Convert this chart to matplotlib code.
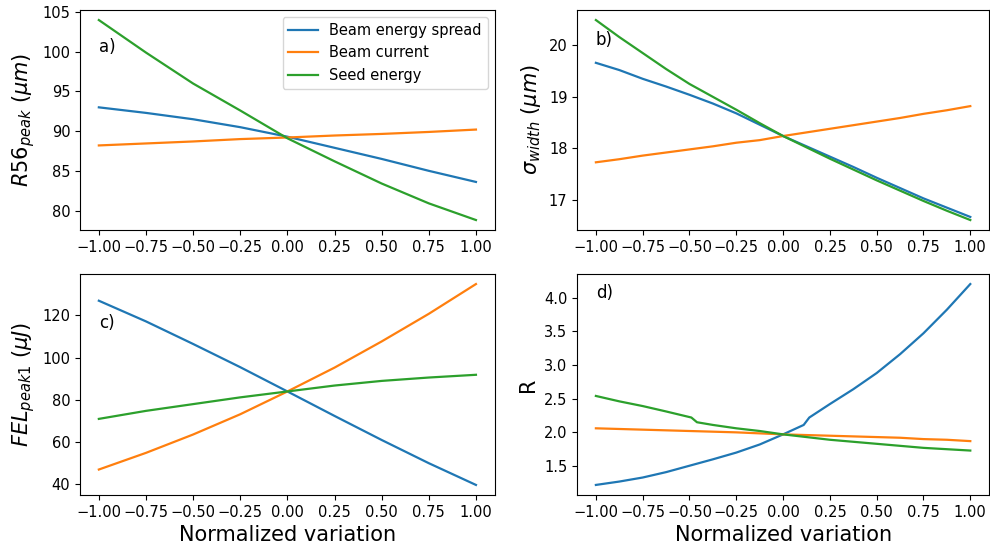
import matplotlib
matplotlib.use("Agg")
import matplotlib.pyplot as plt

# normalized variation grids
x = [-1.0, -0.875, -0.75, -0.625, -0.5, -0.375, -0.25, -0.125, 0.0,
     0.125, 0.25, 0.375, 0.5, 0.625, 0.75, 0.875, 1.0]
x9 = [-1.0, -0.75, -0.5, -0.25, 0.0, 0.25, 0.5, 0.75, 1.0]

labels = ["Beam energy spread", "Beam current", "Seed energy"]

# a) R56 peak (um)
r56_spread = [93.0, 92.3, 91.5, 90.5, 89.3, 87.9, 86.5, 85.0, 83.6]
r56_current = [88.2, 88.45, 88.7, 89.0, 89.2, 89.45, 89.65, 89.9, 90.2]
r56_seed = [104.0, 99.9, 96.0, 92.6, 89.1, 86.2, 83.4, 80.9, 78.8]

# b) sigma width (um)
sig_spread = [19.66, 19.52, 19.35, 19.20, 19.04, 18.87, 18.68, 18.46, 18.24,
              18.04, 17.84, 17.64, 17.43, 17.23, 17.03, 16.85, 16.67]
sig_current = [17.73, 17.79, 17.86, 17.92, 17.98, 18.04, 18.11, 18.16, 18.24,
               18.31, 18.38, 18.45, 18.52, 18.59, 18.67, 18.74, 18.82]
sig_seed = [20.49, 20.16, 19.85, 19.54, 19.25, 19.00, 18.75, 18.49, 18.24,
            18.02, 17.80, 17.59, 17.38, 17.18, 16.98, 16.79, 16.61]

# c) FEL peak1 (uJ)
fel_spread = [127.0, 117.2, 106.5, 95.5, 84.0, 72.4, 61.0, 50.0, 39.7]
fel_current = [47.0, 54.9, 63.6, 73.2, 84.0, 95.3, 107.7, 120.8, 134.9]
fel_seed = [71.0, 74.8, 78.0, 81.2, 84.0, 86.8, 89.0, 90.6, 91.9]

# d) R (own x grids where the curves have kinks)
x_r_spread = [-1.0, -0.875, -0.75, -0.625, -0.5, -0.375, -0.25, -0.125, 0.0,
              0.11, 0.14, 0.25, 0.375, 0.5, 0.625, 0.75, 0.875, 1.0]
r_spread = [1.22, 1.27, 1.33, 1.41, 1.505, 1.60, 1.70, 1.82, 1.97,
            2.11, 2.22, 2.42, 2.64, 2.88, 3.16, 3.47, 3.82, 4.20]
r_current = [2.06, 2.05, 2.04, 2.03, 2.02, 2.01, 2.00, 1.985, 1.97,
             1.96, 1.95, 1.94, 1.93, 1.92, 1.90, 1.89, 1.87]
x_r_seed = [-1.0, -0.875, -0.75, -0.625, -0.49, -0.46, -0.375, -0.25, -0.125,
            0.0, 0.125, 0.25, 0.375, 0.5, 0.625, 0.75, 0.875, 1.0]
r_seed = [2.54, 2.46, 2.39, 2.31, 2.22, 2.15, 2.11, 2.06, 2.02,
          1.97, 1.93, 1.89, 1.86, 1.83, 1.80, 1.77, 1.75, 1.73]

fig = plt.figure(figsize=(9.9, 5.49), dpi=100)
ax_a = fig.add_axes([0.0808, 0.581, 0.419, 0.4007])
ax_b = fig.add_axes([0.583, 0.581, 0.416, 0.4007])
ax_c = fig.add_axes([0.0808, 0.0984, 0.419, 0.4025])
ax_d = fig.add_axes([0.583, 0.0984, 0.416, 0.4025])

lw = 1.6
ax_a.plot(x9, r56_spread, lw=lw, label=labels[0])
ax_a.plot(x9, r56_current, lw=lw, label=labels[1])
ax_a.plot(x9, r56_seed, lw=lw, label=labels[2])

ax_b.plot(x, sig_spread, lw=lw)
ax_b.plot(x, sig_current, lw=lw)
ax_b.plot(x, sig_seed, lw=lw)

ax_c.plot(x9, fel_spread, lw=lw)
ax_c.plot(x9, fel_current, lw=lw)
ax_c.plot(x9, fel_seed, lw=lw)

ax_d.plot(x_r_spread, r_spread, lw=lw)
ax_d.plot(x, r_current, lw=lw)
ax_d.plot(x_r_seed, r_seed, lw=lw)

ax_a.legend(loc="upper right", fontsize=10.5)

ax_a.set_ylabel(r"$R56_{peak}$ $(\mu m)$", fontsize=15)
ax_b.set_ylabel(r"$\sigma_{width}$ $(\mu m)$", fontsize=15)
ax_c.set_ylabel(r"$FEL_{peak1}$ $(\mu J)$", fontsize=15)
ax_d.set_ylabel("R", fontsize=15)
ax_c.set_xlabel("Normalized variation", fontsize=15)
ax_d.set_xlabel("Normalized variation", fontsize=15)

ax_a.text(-1, 100, "a)", fontsize=12)
ax_b.text(-1, 20, "b)", fontsize=12)
ax_c.text(-1, 114, "c)", fontsize=12)
ax_d.text(-1, 4.0, "d)", fontsize=12)

ticks = [-1.0, -0.75, -0.5, -0.25, 0.0, 0.25, 0.5, 0.75, 1.0]
for ax in (ax_a, ax_b, ax_c, ax_d):
    ax.set_xticks(ticks)
    ax.set_xticklabels(["%.2f" % t if t >= 0 else "\u2212%.2f" % -t for t in ticks])
    ax.tick_params(labelsize=10.5)

ax_a.set_yticks([80, 85, 90, 95, 100, 105])
ax_b.set_yticks([17, 18, 19, 20])
ax_c.set_yticks([40, 60, 80, 100, 120])
ax_d.set_yticks([1.5, 2.0, 2.5, 3.0, 3.5, 4.0])

fig.savefig("out.png", dpi=100)
